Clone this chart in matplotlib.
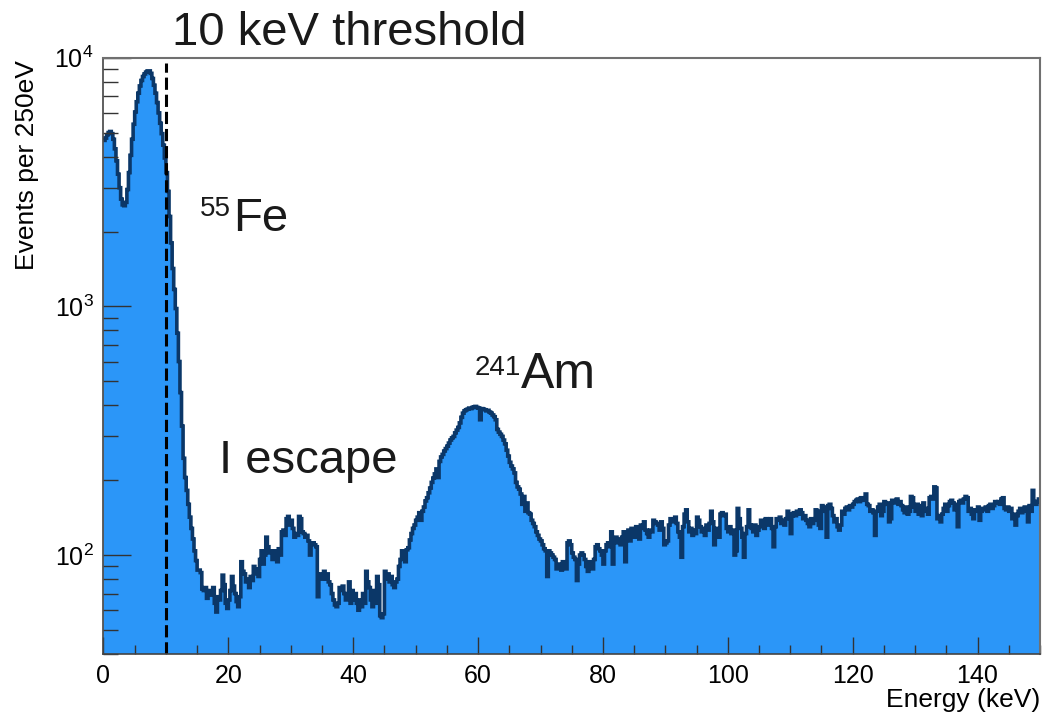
import numpy as np
import matplotlib
matplotlib.use("Agg")
import matplotlib.pyplot as plt
from matplotlib.ticker import LogLocator, NullFormatter, MultipleLocator

plt.rcParams['font.family'] = ['Liberation Sans', 'DejaVu Sans']
plt.rcParams['mathtext.fontset'] = 'custom'
plt.rcParams['mathtext.rm'] = 'Liberation Sans'

# spectrum, 250 eV bins from 0 to 150 keV
e_min, e_max = 0.0, 150.0
threshold = 10.0  # keV

# 0 - 15 keV  (55Fe region)
counts_fe = [
    4650, 4750, 4900, 5000, 5050, 4950, 4700, 4300, 3850, 3400,
    3000, 2700, 2560, 2540, 2620, 2950, 3450, 4050, 4700, 5400,
    6050, 6650, 7200, 7700, 8100, 8400, 8600, 8750, 8850, 8850,
    8650, 8250, 7750, 7200, 6600, 6000, 5450, 4950, 4450, 3950,
    3450, 2900, 2300, 1800, 1420, 1170, 980, 780, 600, 450,
    330, 245, 205, 182, 160, 142, 128, 116, 104, 95,
]
# 15 - 48 keV  (iodine escape)
counts_escape = [
    87, 87, 85, 73, 72, 74, 67, 70, 72, 69,
    74, 64, 59, 68, 66, 72, 83, 76, 64, 61,
    66, 72, 82, 75, 70, 65, 62, 68, 94, 86,
    84, 78, 80, 74, 82, 79, 90, 84, 88, 82,
    96, 104, 92, 100, 118, 108, 102, 104, 96, 104,
    98, 94, 106, 100, 124, 126, 120, 140, 143, 132,
    138, 128, 118, 122, 120, 143, 140, 124, 122, 118,
    120, 114, 100, 112, 112, 110, 108, 68, 84, 82,
    80, 86, 80, 84, 78, 76, 70, 66, 63, 62,
    64, 74, 72, 75, 70, 66, 68, 78, 64, 72,
    66, 70, 64, 60, 66, 62, 70, 64, 86, 78,
    74, 66, 62, 72, 64, 82, 76, 57, 56, 58,
    86, 80, 84, 78, 82, 76, 74, 78, 80, 90,
    96, 104,
]
# 48 - 71 keV  (241Am line)
counts_am = [
    100, 94, 105, 107, 115, 122, 128, 132, 138, 142, 148, 138,
    150, 156, 165, 170, 178, 186, 196, 204, 212, 222, 205, 238,
    248, 254, 262, 268, 274, 282, 290, 296, 300, 310, 318, 326,
    340, 358, 372, 380, 384, 386, 390, 388, 392, 394, 396, 392,
    390, 350, 388, 386, 384, 380, 382, 376, 372, 366, 360, 350,
    320, 312, 306, 300, 290, 280, 264, 250, 236, 228, 222, 214,
    196, 188, 184, 176, 160, 172, 150, 162, 148, 146, 138, 134,
    130, 124, 120, 116, 114, 110, 106, 104,
]
# 71 - 111 keV
counts_mid = [
    82, 104, 102, 100, 98, 96, 88, 92, 90, 87, 94, 90,
    88, 112, 114, 110, 102, 98, 96, 79, 92, 100, 102, 100,
    96, 90, 86, 94, 92, 88, 96, 108, 110, 106, 104, 100,
    92, 104, 110, 112, 108, 124, 92, 114, 118, 112, 116, 110,
    118, 124, 94, 120, 126, 114, 128, 122, 118, 130, 124, 116,
    132, 128, 136, 126, 122, 118, 126, 124, 138, 136, 134, 132,
    126, 136, 128, 110, 112, 114, 132, 140, 136, 138, 142, 134,
    124, 118, 98, 130, 146, 152, 136, 124, 128, 120, 126, 122,
    142, 138, 130, 124, 128, 120, 132, 126, 134, 150, 136, 110,
    128, 124, 118, 146, 148, 144, 146, 128, 124, 130, 122, 126,
    100, 104, 154, 140, 128, 118, 98, 122, 130, 152, 132, 128,
    124, 132, 120, 126, 130, 138, 134, 128, 140, 136, 132, 140,
    128, 108, 130, 140, 138, 142, 134, 138, 132, 140, 150, 146,
    122, 144, 148, 144,
]
# 111 - 150 keV
counts_high = [
    150, 146, 152, 148, 140, 144, 138, 134, 130, 140, 134, 138,
    152, 150, 132, 128, 158, 156, 150, 118, 158, 160, 154, 144,
    136, 140, 130, 126, 132, 150, 146, 154, 156, 152, 158, 156,
    160, 164, 166, 168, 164, 170, 166, 168, 176, 160, 158, 150,
    152, 148, 120, 150, 156, 160, 144, 150, 164, 160, 162, 136,
    140, 166, 164, 162, 168, 160, 164, 158, 152, 148, 156, 146,
    150, 172, 170, 156, 150, 160, 146, 158, 144, 162, 150, 154,
    146, 170, 172, 168, 188, 186, 140, 144, 136, 146, 154, 160,
    150, 158, 164, 166, 162, 152, 160, 130, 164, 166, 162, 168,
    172, 170, 150, 154, 146, 140, 152, 150, 156, 138, 150, 154,
    152, 156, 150, 158, 160, 154, 158, 164, 162, 164, 160, 168,
    170, 154, 152, 156, 150, 154, 140, 146, 132, 144, 150, 154,
    148, 152, 156, 150, 136, 158, 150, 182, 164, 160, 164, 168,
]

counts = np.array(counts_fe + counts_escape + counts_am + counts_mid + counts_high, float)
edges = np.linspace(e_min, e_max, len(counts) + 1)

fill_col = "#2b96f8"
line_col = "#0b3768"
frame_col = "#707070"

fig = plt.figure(figsize=(10.43, 7.15), dpi=100)
ax = fig.add_axes([0.0992, 0.0853, 0.8979, 0.834])

ax.stairs(counts, edges, fill=True, baseline=1, color=fill_col, lw=0)
ax.stairs(counts, edges, baseline=None, color=line_col, lw=2.6)

ax.set_yscale("log")
ax.set_xlim(e_min, e_max)
ax.set_ylim(40, 1e4)

# threshold marker
ax.vlines(threshold, 40, 9500, colors="black", linestyles=(0, (4, 1.6)), lw=2.2)

# ticks, ROOT-like
ax.xaxis.set_major_locator(MultipleLocator(20))
ax.xaxis.set_minor_locator(MultipleLocator(5))
ax.yaxis.set_major_locator(LogLocator(base=10))
ax.yaxis.set_minor_locator(LogLocator(base=10, subs=np.arange(2, 10)))
ax.yaxis.set_minor_formatter(NullFormatter())
ax.tick_params(axis="x", which="major", direction="in", length=12, width=1,
               color="#333333", labelsize=18, pad=7)
ax.tick_params(axis="x", which="minor", direction="in", length=6.5, width=1, color="#333333")
ax.tick_params(axis="y", which="major", direction="in", length=20, width=1,
               color="#333333", labelsize=18, pad=7)
ax.tick_params(axis="y", which="minor", direction="in", length=11, width=1, color="#333333")
ax.tick_params(top=False, right=False)

for side in ["top", "right"]:
    ax.spines[side].set_color(frame_col)
    ax.spines[side].set_linewidth(1.5)
for side in ["left", "bottom"]:
    ax.spines[side].set_color("#444444")
    ax.spines[side].set_linewidth(1.2)

fig.text(0.026, 0.916, "Events per 250eV", rotation=90, ha="center", va="top", fontsize=19)
fig.text(0.997, 0.011, "Energy (keV)", ha="right", va="baseline", fontsize=19)

# annotations
fig.text(172 / 1043, 1 - 45 / 715, "10 keV threshold", ha="left", va="baseline",
         fontsize=34, color="#1a1a1a")
ax.text(0.103, 0.735, "55", transform=ax.transAxes, fontsize=20, va="baseline", color="#1a1a1a")
ax.text(0.1383, 0.710, "Fe", transform=ax.transAxes, fontsize=34, va="baseline", color="#1a1a1a")
ax.text(0.123, 0.3035, "I escape", transform=ax.transAxes, fontsize=34, va="baseline", color="#1a1a1a")
ax.text(0.396, 0.468, "241", transform=ax.transAxes, fontsize=20, va="baseline", color="#1a1a1a")
ax.text(0.4458, 0.446, "Am", transform=ax.transAxes, fontsize=36, va="baseline", color="#1a1a1a")

fig.savefig("out.png", dpi=100)
